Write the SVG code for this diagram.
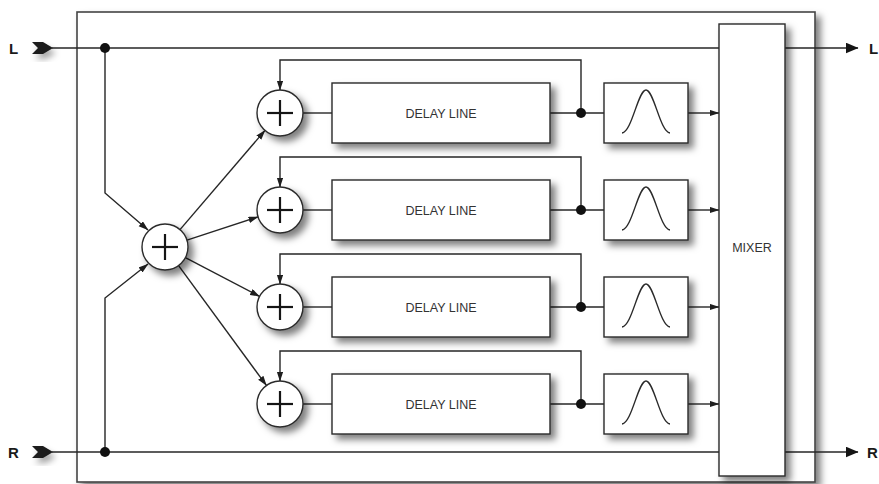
<svg xmlns="http://www.w3.org/2000/svg" width="879" height="484" viewBox="0 0 879 484">
  <defs>
    <filter id="shadow" x="-20%" y="-20%" width="160%" height="160%">
      <feDropShadow dx="5" dy="5" stdDeviation="3.5" flood-color="#000" flood-opacity="0.5"/>
    </filter>
    <filter id="softShadow" x="-40%" y="-40%" width="200%" height="200%">
      <feDropShadow dx="3" dy="5" stdDeviation="3" flood-color="#000" flood-opacity="0.35"/>
    </filter>
    <marker id="arrow" markerUnits="userSpaceOnUse" markerWidth="10" markerHeight="7" refX="9.5" refY="3.25" orient="auto">
      <path d="M0,0 L10,3.25 L0,6.5 z" fill="#1e1e1e"/>
    </marker>
    <marker id="bigArrow" markerUnits="userSpaceOnUse" markerWidth="13" markerHeight="11" refX="12.5" refY="5.5" orient="auto">
      <path d="M0,0 L13,5.5 L0,11 z" fill="#141414"/>
    </marker>
    <path id="gauss" d="M-24,20 C-14,19 -8,-23 0,-23 C8,-23 14,19 24,20"/>
    <g id="plus">
      <line x1="-13" y1="0" x2="13" y2="0"/>
      <line x1="0" y1="-13" x2="0" y2="13"/>
    </g>
  </defs>
  <style>
    .box { fill: #ffffff; stroke: #2a2a2a; stroke-width: 1.4; }
    .frame { fill: #ffffff; stroke: #444444; stroke-width: 1.6; }
    .wire { fill: none; stroke: #262626; stroke-width: 1.4; }
    .sign { stroke: #151515; stroke-width: 2.2; fill: none; }
    .curve { fill: none; stroke: #2a2a2a; stroke-width: 1.4; }
    .dot { fill: #111111; }
    .label { font-family: "Liberation Sans", Arial, sans-serif; font-size: 12.5px; fill: #333333; text-anchor: middle; }
    .io { font-family: "Liberation Sans", Arial, sans-serif; font-size: 15px; font-weight: bold; fill: #1a1a1a; }
    .chev { fill: #1a1a1a; }
  </style>

  <rect width="879" height="484" fill="#ffffff"/>

  <!-- enclosing unit -->
  <rect id="frame" class="frame" x="77" y="12" width="738" height="470" filter="url(#shadow)"/>

  <!-- connectors -->
  <g id="connectors">
    <!-- L and R buses through to the mixer -->
    <line class="wire" x1="52" y1="48" x2="719" y2="48"/>
    <line class="wire" x1="52" y1="452" x2="719" y2="452"/>
    <!-- outputs -->
    <line class="wire" x1="785" y1="48" x2="858" y2="48" marker-end="url(#bigArrow)"/>
    <line class="wire" x1="785" y1="452" x2="858" y2="452" marker-end="url(#bigArrow)"/>
    <!-- inputs into the main summer -->
    <polyline class="wire" points="105,48 105,193 148,230" marker-end="url(#arrow)"/>
    <polyline class="wire" points="105,452 105,298 148,264" marker-end="url(#arrow)"/>
    <!-- main summer to the four line summers -->
    <line class="wire" x1="180" y1="229.6" x2="265" y2="130.4" marker-end="url(#arrow)"/>
    <line class="wire" x1="187" y1="240.1" x2="258" y2="216.9" marker-end="url(#arrow)"/>
    <line class="wire" x1="185.4" y1="257.6" x2="259.6" y2="296.4" marker-end="url(#arrow)"/>
    <line class="wire" x1="178.6" y1="265.6" x2="266.4" y2="385.4" marker-end="url(#arrow)"/>

    <!-- row 1 -->
    <line class="wire" x1="303" y1="113" x2="332" y2="113"/>
    <line class="wire" x1="550" y1="113" x2="604" y2="113"/>
    <line class="wire" x1="688" y1="113" x2="719" y2="113" marker-end="url(#arrow)"/>
    <polyline class="wire" points="581,113 581,60 280,60 280,90" marker-end="url(#arrow)"/>
    <!-- row 2 -->
    <line class="wire" x1="303" y1="210" x2="332" y2="210"/>
    <line class="wire" x1="550" y1="210" x2="604" y2="210"/>
    <line class="wire" x1="688" y1="210" x2="719" y2="210" marker-end="url(#arrow)"/>
    <polyline class="wire" points="581,210 581,157 280,157 280,187" marker-end="url(#arrow)"/>
    <!-- row 3 -->
    <line class="wire" x1="303" y1="307" x2="332" y2="307"/>
    <line class="wire" x1="550" y1="307" x2="604" y2="307"/>
    <line class="wire" x1="688" y1="307" x2="719" y2="307" marker-end="url(#arrow)"/>
    <polyline class="wire" points="581,307 581,254 280,254 280,284" marker-end="url(#arrow)"/>
    <!-- row 4 -->
    <line class="wire" x1="303" y1="404" x2="332" y2="404"/>
    <line class="wire" x1="550" y1="404" x2="604" y2="404"/>
    <line class="wire" x1="688" y1="404" x2="719" y2="404" marker-end="url(#arrow)"/>
    <polyline class="wire" points="581,404 581,351 280,351 280,381" marker-end="url(#arrow)"/>

    <!-- junction dots -->
    <circle class="dot" cx="105" cy="48" r="5"/>
    <circle class="dot" cx="105" cy="452" r="5"/>
    <circle class="dot" cx="581" cy="113" r="5"/>
    <circle class="dot" cx="581" cy="210" r="5"/>
    <circle class="dot" cx="581" cy="307" r="5"/>
    <circle class="dot" cx="581" cy="404" r="5"/>
  </g>

  <!-- input / output labels -->
  <g id="in-L">
    <text class="io" x="9" y="54">L</text>
    <polygon class="chev" points="32,42 43,42 53,48 43,54 32,54 38,48" filter="url(#softShadow)"/>
  </g>
  <g id="in-R">
    <text class="io" x="8" y="458">R</text>
    <polygon class="chev" points="32,446 43,446 53,452 43,458 32,458 38,452" filter="url(#softShadow)"/>
  </g>
  <g id="out-L">
    <text class="io" x="869" y="54">L</text>
  </g>
  <g id="out-R">
    <text class="io" x="867" y="458">R</text>
  </g>

  <!-- main summer -->
  <g id="sum-main">
    <circle class="box" cx="165" cy="247" r="23" filter="url(#shadow)"/>
    <use href="#plus" class="sign" x="165" y="247"/>
  </g>

  <!-- line summers -->
  <g id="sum-1">
    <circle class="box" cx="280" cy="113" r="23" filter="url(#shadow)"/>
    <use href="#plus" class="sign" x="280" y="113"/>
  </g>
  <g id="sum-2">
    <circle class="box" cx="280" cy="210" r="23" filter="url(#shadow)"/>
    <use href="#plus" class="sign" x="280" y="210"/>
  </g>
  <g id="sum-3">
    <circle class="box" cx="280" cy="307" r="23" filter="url(#shadow)"/>
    <use href="#plus" class="sign" x="280" y="307"/>
  </g>
  <g id="sum-4">
    <circle class="box" cx="280" cy="404" r="23" filter="url(#shadow)"/>
    <use href="#plus" class="sign" x="280" y="404"/>
  </g>

  <!-- delay lines -->
  <g id="delay-1">
    <rect class="box" x="332" y="83" width="218" height="60" filter="url(#shadow)"/>
    <text class="label" x="441" y="117.5">DELAY LINE</text>
  </g>
  <g id="delay-2">
    <rect class="box" x="332" y="180" width="218" height="60" filter="url(#shadow)"/>
    <text class="label" x="441" y="214.5">DELAY LINE</text>
  </g>
  <g id="delay-3">
    <rect class="box" x="332" y="277" width="218" height="60" filter="url(#shadow)"/>
    <text class="label" x="441" y="311.5">DELAY LINE</text>
  </g>
  <g id="delay-4">
    <rect class="box" x="332" y="374" width="218" height="60" filter="url(#shadow)"/>
    <text class="label" x="441" y="408.5">DELAY LINE</text>
  </g>

  <!-- band-pass filters -->
  <g id="filter-1">
    <rect class="box" x="604" y="83" width="84" height="60" filter="url(#shadow)"/>
    <use href="#gauss" class="curve" x="646" y="113"/>
  </g>
  <g id="filter-2">
    <rect class="box" x="604" y="180" width="84" height="60" filter="url(#shadow)"/>
    <use href="#gauss" class="curve" x="646" y="210"/>
  </g>
  <g id="filter-3">
    <rect class="box" x="604" y="277" width="84" height="60" filter="url(#shadow)"/>
    <use href="#gauss" class="curve" x="646" y="307"/>
  </g>
  <g id="filter-4">
    <rect class="box" x="604" y="374" width="84" height="60" filter="url(#shadow)"/>
    <use href="#gauss" class="curve" x="646" y="404"/>
  </g>

  <!-- mixer -->
  <g id="mixer">
    <rect class="box" x="719" y="24" width="66" height="452" filter="url(#shadow)"/>
    <text class="label" x="752" y="252">MIXER</text>
  </g>
</svg>
